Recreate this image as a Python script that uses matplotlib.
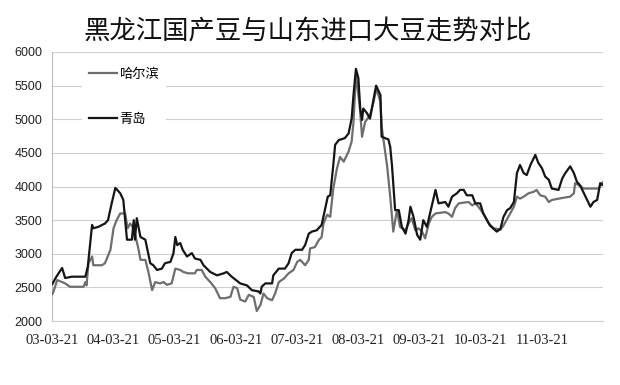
import numpy as np
import pandas as pd
import matplotlib
matplotlib.use("Agg")
import matplotlib.pyplot as plt
from matplotlib.font_manager import FontProperties

# ── data ────────────────────────────────────────────────────────────────────
# time as decimal year, price in yuan/ton

qd_year = [2003.22, 2003.28, 2003.38, 2003.43, 2003.54, 2003.76, 2003.80, 2003.87, 2003.89, 2003.97,
           2004.08, 2004.13, 2004.19, 2004.25, 2004.33, 2004.38, 2004.44, 2004.52, 2004.55, 2004.57,
           2004.60, 2004.66, 2004.74, 2004.82, 2004.87, 2004.93, 2005.01, 2005.06, 2005.15, 2005.20,
           2005.23, 2005.26, 2005.31, 2005.35, 2005.42, 2005.50, 2005.55, 2005.64, 2005.69, 2005.80,
           2005.91, 2006.02, 2006.07, 2006.15, 2006.29, 2006.40, 2006.48, 2006.59, 2006.62, 2006.64,
           2006.70, 2006.81, 2006.83, 2006.92, 2007.02, 2007.08, 2007.13, 2007.19, 2007.30, 2007.35,
           2007.41, 2007.46, 2007.54, 2007.62, 2007.68, 2007.72, 2007.76, 2007.81, 2007.84, 2007.90,
           2008.00, 2008.06, 2008.11, 2008.14, 2008.18, 2008.22, 2008.25, 2008.28, 2008.30, 2008.36,
           2008.41, 2008.47, 2008.51, 2008.58, 2008.60, 2008.71, 2008.74, 2008.77, 2008.82, 2008.88,
           2008.93, 2008.99, 2009.04, 2009.07, 2009.12, 2009.18, 2009.23, 2009.28, 2009.34, 2009.39,
           2009.48, 2009.53, 2009.64, 2009.69, 2009.75, 2009.83, 2009.88, 2009.94, 2009.99, 2010.08,
           2010.13, 2010.21, 2010.26, 2010.37, 2010.48, 2010.54, 2010.59, 2010.65, 2010.70, 2010.76,
           2010.81, 2010.86, 2010.92, 2010.97, 2011.03, 2011.11, 2011.16, 2011.22, 2011.27, 2011.33,
           2011.38, 2011.49, 2011.55, 2011.60, 2011.68, 2011.74, 2011.79, 2011.84, 2011.93, 2012.01,
           2012.06, 2012.12, 2012.17, 2012.22]
qd_price = [2550, 2650, 2790, 2640, 2660, 2660, 2810, 3430, 3380, 3400,
            3450, 3500, 3750, 3980, 3900, 3800, 3210, 3210, 3500, 3210,
            3530, 3250, 3210, 2860, 2830, 2760, 2780, 2860, 2880, 3010,
            3250, 3130, 3160, 3060, 2960, 3010, 2930, 2910, 2830, 2730,
            2680, 2710, 2730, 2660, 2560, 2530, 2460, 2440, 2410, 2510,
            2560, 2560, 2680, 2780, 2780, 2860, 3010, 3060, 3060, 3130,
            3300, 3330, 3350, 3430, 3680, 3850, 3870, 4320, 4620, 4690,
            4720, 4790, 5010, 5360, 5750, 5610, 5160, 4990, 5160, 5090,
            5010, 5310, 5500, 5360, 4740, 4700, 4590, 4300, 3650, 3650,
            3400, 3300, 3500, 3700, 3550, 3280, 3210, 3500, 3400, 3600,
            3950, 3750, 3770, 3700, 3850, 3900, 3950, 3950, 3870, 3870,
            3750, 3750, 3600, 3420, 3330, 3370, 3550, 3650, 3680, 3770,
            4200, 4320, 4200, 4170, 4320, 4470, 4350, 4270, 4150, 4100,
            3970, 3950, 4120, 4200, 4300, 4200, 4070, 4020, 3850, 3700,
            3770, 3800, 4050, 4020]

hb_year = [2003.22, 2003.24, 2003.30, 2003.38, 2003.43, 2003.51, 2003.73, 2003.76, 2003.78, 2003.81,
           2003.87, 2003.89, 2004.03, 2004.08, 2004.17, 2004.22, 2004.27, 2004.33, 2004.41, 2004.45,
           2004.49, 2004.55, 2004.63, 2004.66, 2004.74, 2004.79, 2004.85, 2004.90, 2004.98, 2005.04,
           2005.09, 2005.17, 2005.23, 2005.31, 2005.36, 2005.44, 2005.55, 2005.58, 2005.66, 2005.72,
           2005.80, 2005.88, 2005.96, 2006.04, 2006.13, 2006.18, 2006.24, 2006.29, 2006.37, 2006.43,
           2006.51, 2006.56, 2006.62, 2006.67, 2006.73, 2006.81, 2006.86, 2006.92, 2007.00, 2007.08,
           2007.16, 2007.22, 2007.27, 2007.35, 2007.41, 2007.43, 2007.51, 2007.57, 2007.62, 2007.65,
           2007.71, 2007.76, 2007.81, 2007.87, 2007.92, 2007.98, 2008.06, 2008.11, 2008.14, 2008.18,
           2008.24, 2008.28, 2008.33, 2008.41, 2008.47, 2008.51, 2008.58, 2008.60, 2008.69, 2008.74,
           2008.79, 2008.85, 2008.90, 2008.99, 2009.04, 2009.09, 2009.15, 2009.20, 2009.26, 2009.31,
           2009.37, 2009.42, 2009.48, 2009.64, 2009.69, 2009.75, 2009.80, 2009.86, 2010.02, 2010.08,
           2010.13, 2010.18, 2010.26, 2010.35, 2010.43, 2010.54, 2010.59, 2010.67, 2010.76, 2010.81,
           2010.86, 2010.92, 2011.00, 2011.08, 2011.13, 2011.19, 2011.27, 2011.33, 2011.38, 2011.49,
           2011.68, 2011.74, 2011.76, 2011.82, 2011.90, 2012.14, 2012.22]
hb_price = [2400, 2440, 2610, 2580, 2560, 2510, 2510, 2580, 2530, 2860,
            2960, 2830, 2830, 2860, 3060, 3380, 3500, 3600, 3600, 3380,
            3450, 3380, 3060, 2910, 2910, 2730, 2460, 2580, 2560, 2580,
            2540, 2560, 2780, 2760, 2730, 2710, 2710, 2760, 2760, 2660,
            2580, 2490, 2340, 2340, 2360, 2510, 2490, 2320, 2290, 2390,
            2360, 2150, 2240, 2410, 2340, 2310, 2410, 2580, 2630, 2710,
            2760, 2880, 2910, 2830, 2910, 3080, 3100, 3200, 3250, 3450,
            3580, 3550, 3970, 4270, 4440, 4370, 4520, 4670, 4960, 5660,
            5210, 4740, 4960, 5060, 5260, 5460, 5260, 4890, 4300, 3850,
            3330, 3650, 3400, 3350, 3450, 3530, 3350, 3380, 3330, 3230,
            3450, 3550, 3600, 3620, 3600, 3550, 3680, 3750, 3770, 3720,
            3750, 3700, 3600, 3450, 3380, 3360, 3420, 3550, 3700, 3850,
            3820, 3850, 3900, 3920, 3950, 3870, 3850, 3770, 3800, 3820,
            3850, 3900, 4050, 4020, 3970, 3970, 4070]

tick_labels = ["03-03-21", "04-03-21", "05-03-21", "06-03-21", "07-03-21",
               "08-03-21", "09-03-21", "10-03-21", "11-03-21"]
y_ticks = [2000, 2500, 3000, 3500, 4000, 4500, 5000, 5500, 6000]

title = "黑龙江国产豆与山东进口大豆走势对比"
HB_LABEL = "哈尔滨"
QD_LABEL = "青岛"

# tick positions as decimal years (yy-03-21)
tick_pos = []
for lab in tick_labels:
    d = pd.Timestamp("20" + lab)
    tick_pos.append(d.year + (d.dayofyear - 1) / 365.0)

# ── figure ──────────────────────────────────────────────────────────────────
cjk = "Noto Sans CJK SC"

fig = plt.figure(figsize=(6.2, 3.85), dpi=100)
ax = fig.add_axes([0.084, 0.166, 0.889, 0.699])

ax.plot(hb_year, hb_price, color="#6e6e6e", lw=1.6, label=HB_LABEL, zorder=3)
ax.plot(qd_year, qd_price, color="#151515", lw=1.6, label=QD_LABEL, zorder=4)

ax.set_xlim(tick_pos[0], 2012.22)
ax.set_ylim(2000, 6000)
ax.set_yticks(y_ticks)
ax.set_xticks(tick_pos)
ax.set_xticklabels(tick_labels, fontfamily="Liberation Serif", fontsize=10.5)
for t in ax.get_yticklabels():
    t.set_fontfamily("Liberation Sans")
    t.set_fontsize(9)

ax.tick_params(axis="x", length=0, pad=9, colors="#222222")
ax.tick_params(axis="y", length=0, pad=7, colors="#222222")

ax.yaxis.grid(True, color="#cfcfcf", lw=0.8, zorder=0)
ax.spines[["top", "right"]].set_visible(False)
ax.spines["left"].set_color("#bdbdbd")
ax.spines["bottom"].set_color("#cfcfcf")
ax.spines["bottom"].set_linewidth(0.8)

leg = ax.legend(
    loc="upper left", bbox_to_anchor=(0.055, 0.965), borderaxespad=0,
    prop=FontProperties(family=cjk, size=9.5),
    frameon=True, facecolor="white", edgecolor="none", framealpha=1,
    handlelength=2.1, handletextpad=0.2, labelspacing=2.4, borderpad=0.5,
)
leg.set_zorder(5)

fig.text(0.496, 0.917, title, ha="center", va="center",
         fontfamily=cjk, fontsize=19, color="#111111")

fig.savefig("out.png", dpi=100)
plt.close(fig)
